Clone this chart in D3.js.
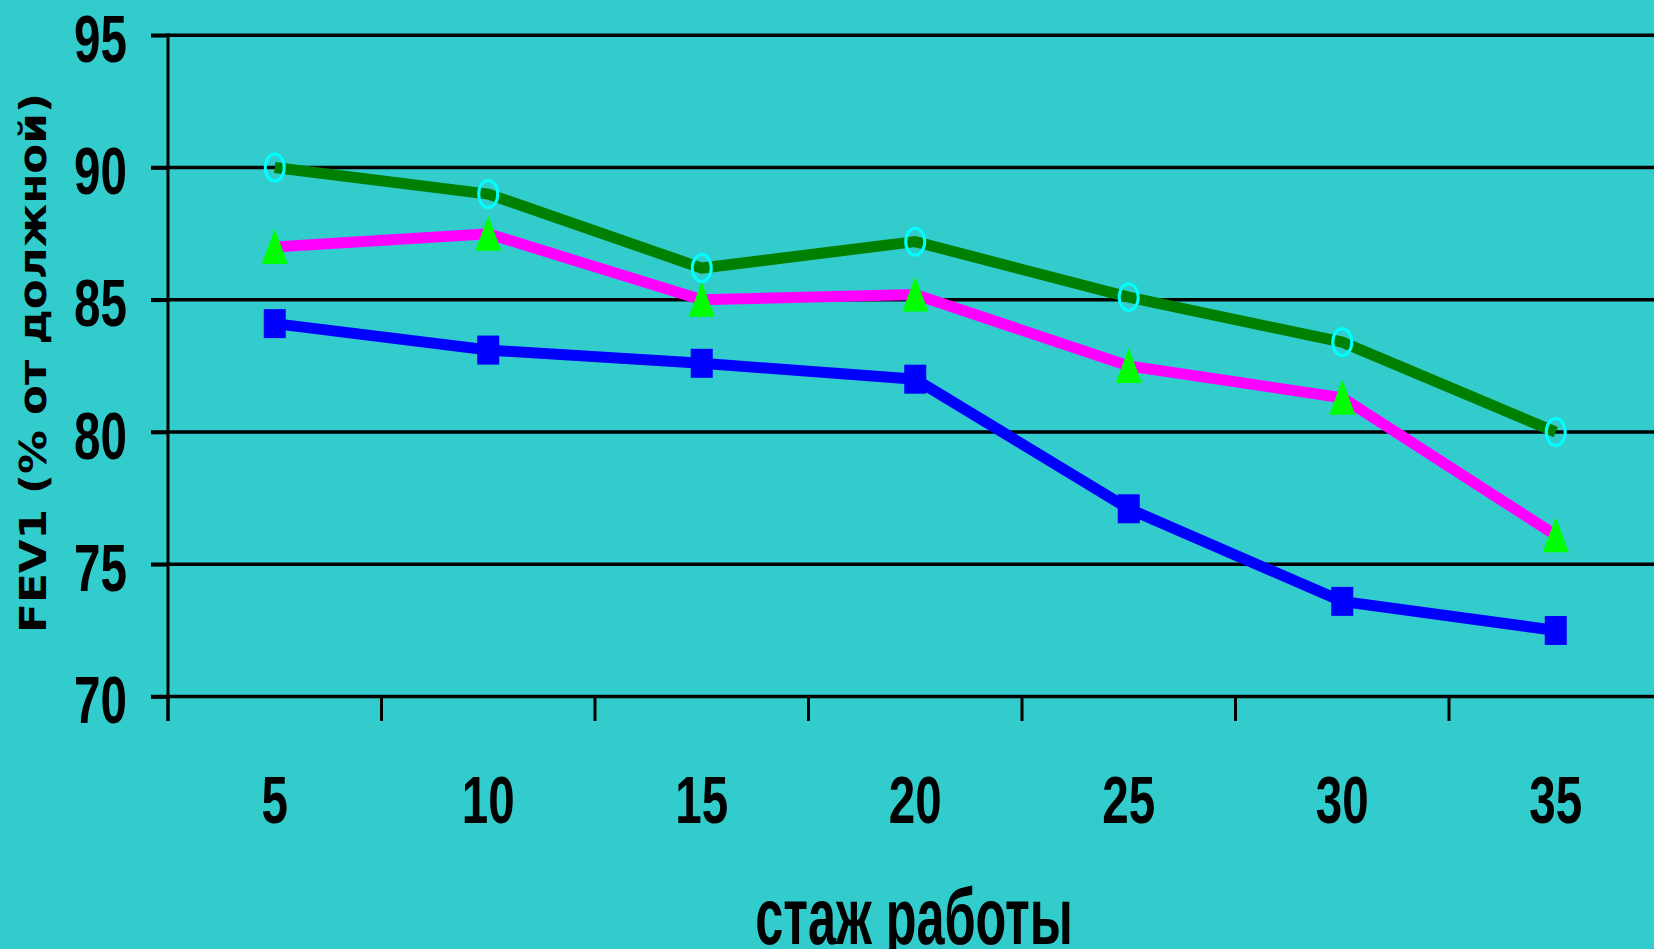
<!DOCTYPE html>
<html><head><meta charset="utf-8">
<script src="https://cdn.jsdelivr.net/npm/d3@7"></script>
<style>html,body{margin:0;padding:0;background:#33CCCC;overflow:hidden}</style>
</head><body><svg id="c" width="1654" height="949"></svg>
<script>
// ---- data ----
const categories = ["5", "10", "15", "20", "25", "30", "35"];
const seriesBlue = [84.1, 83.1, 82.6, 82.0, 77.1, 73.6, 72.5];
const seriesMagenta = [87.0, 87.5, 85.0, 85.2, 82.5, 81.3, 76.1];
const seriesGreen = [90.0, 89.0, 86.2, 87.2, 85.1, 83.4, 80.0];
const yTicks = [70, 75, 80, 85, 90, 95];
const xTitle = "стаж работы";
const yTitle = "FEV1 (% от должной)";

// ---- layout ----
const W = 1654, H = 949;
const svg = d3.select("#c");
svg.append("rect").attr("width", W).attr("height", H).attr("fill", "#33CCCC");

const x = d3.scaleBand().domain(categories).range([168, 168 + 7 * 213.5]).padding(0);
const y = d3.scaleLinear().domain([70, 95]).range([696.6, 35.3]);
const cx = c => x(c) + x.bandwidth() / 2;
const sans = "'Liberation Sans',Arial,sans-serif";
const SX = 0.71; // condensed look

// gridlines
svg.append("g").selectAll("line").data(yTicks).join("line")
  .attr("x1", 151).attr("x2", W).attr("y1", d => y(d)).attr("y2", d => y(d))
  .attr("stroke", "#000").attr("stroke-width", 3.5);

// y axis (ticks) + labels
const yAxis = svg.append("g").attr("transform", "translate(168,0)")
  .call(d3.axisLeft(y).tickValues(yTicks).tickSize(17).tickFormat(""));
yAxis.select(".domain").remove();
yAxis.selectAll(".tick line").attr("stroke", "#000").attr("stroke-width", 3.5);
svg.append("g").selectAll("text").data(yTicks).join("text")
  .attr("transform", d => `translate(127,${y(d) + 26.5}) scale(${SX},1)`)
  .attr("text-anchor", "end").attr("font-family", sans).attr("font-weight", "bold")
  .attr("font-size", 67).attr("fill", "#000").text(d3.format("d"));
svg.append("line").attr("x1", 168).attr("x2", 168).attr("y1", y(95) - 2).attr("y2", 721)
  .attr("stroke", "#000").attr("stroke-width", 3);

// x ticks at category boundaries
svg.append("g").selectAll("line").data(categories).join("line")
  .attr("x1", d => x(d)).attr("x2", d => x(d)).attr("y1", y(70)).attr("y2", 721)
  .attr("stroke", "#000").attr("stroke-width", 3);
// x labels
svg.append("g").selectAll("text").data(categories).join("text")
  .attr("transform", d => `translate(${cx(d)},823) scale(${SX},1)`).attr("text-anchor", "middle")
  .attr("font-family", sans).attr("font-weight", "bold").attr("font-size", 67)
  .attr("fill", "#000").text(d => d);

// titles
svg.append("text").attr("transform", "translate(914,944) scale(0.63,1)").attr("text-anchor", "middle")
  .attr("font-family", sans).attr("font-weight", "bold").attr("font-size", 80)
  .attr("fill", "#000").text(xTitle);
const yt = svg.append("text")
  .attr("text-anchor", "middle")
  .attr("font-family", "'DejaVu Sans',Verdana,sans-serif").attr("font-weight", "bold")
  .attr("font-size", 38).attr("fill", "#000").text(yTitle);
const len = yt.node().getComputedTextLength();
const k = Math.min(1.22, 540 / len);
const rest = 540 / k - len;
yt.attr("letter-spacing", Math.max(0, rest / (yTitle.length - 1)))
  .attr("transform", `translate(46,363) rotate(-90) scale(${k},1)`);

// lines
const line = d3.line().x((d, i) => cx(categories[i])).y(d => y(d));
const series = [
  { vals: seriesBlue, color: "#0000FF" },
  { vals: seriesMagenta, color: "#FF00FF" },
  { vals: seriesGreen, color: "#008000" }
];
svg.append("g").selectAll("path").data(series).join("path")
  .attr("d", s => line(s.vals)).attr("fill", "none")
  .attr("stroke", s => s.color).attr("stroke-width", 11).attr("stroke-linejoin", "miter");

// markers
svg.append("g").selectAll("rect").data(seriesBlue).join("rect")
  .attr("x", (d, i) => cx(categories[i]) - 11).attr("y", d => y(d) - 14.5)
  .attr("width", 22).attr("height", 29).attr("fill", "#0000FF");
svg.append("g").selectAll("path").data(seriesMagenta).join("path")
  .attr("d", (d, i) => {
    const px = cx(categories[i]), py = y(d);
    return `M${px},${py - 18}L${px + 13},${py + 17}L${px - 13},${py + 17}Z`;
  }).attr("fill", "#00FF00");
svg.append("g").selectAll("ellipse").data(seriesGreen).join("ellipse")
  .attr("cx", (d, i) => cx(categories[i])).attr("cy", d => y(d))
  .attr("rx", 9.5).attr("ry", 13.5).attr("fill", "none")
  .attr("stroke", "#00FFFF").attr("stroke-width", 3);
</script></body></html>
